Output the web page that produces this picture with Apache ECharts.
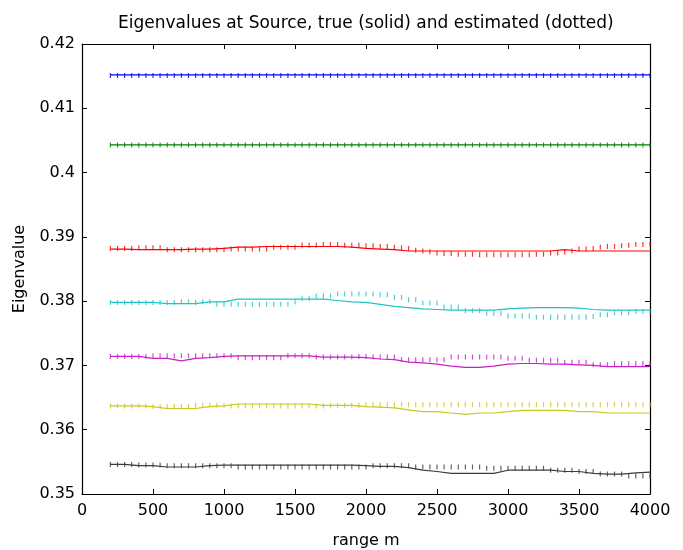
<!DOCTYPE html>
<html>
<head>
<meta charset="utf-8">
<title>Eigenvalues at Source</title>
<script src="https://cdn.jsdelivr.net/npm/echarts@6/dist/echarts.min.js"></script>
<style>
html,body{margin:0;padding:0;background:#fff;}
#main{width:683px;height:550px;}
</style>
</head>
<body>
<div id="main"></div>
<script>
// range (m) of the true curves and of the estimated points
var rangeSolid = [200,300,400,500,600,700,800,900,1000,1100,1200,1300,1400,1500,1600,1700,1800,1900,2000,2100,
	2200,2300,2400,2500,2600,2700,2800,2900,3000,3100,3200,3300,3400,3500,3600,3700,3800,3900,4000];
var rangeEst = [200,250,300,350,400,450,500,550,600,650,700,750,800,850,900,950,1000,1050,1100,1150,
	1200,1250,1300,1350,1400,1450,1500,1550,1600,1650,1700,1750,1800,1850,1900,1950,2000,2050,2100,2150,
	2200,2250,2300,2350,2400,2450,2500,2550,2600,2650,2700,2750,2800,2850,2900,2950,3000,3050,3100,3150,
	3200,3250,3300,3350,3400,3450,3500,3550,3600,3650,3700,3750,3800,3850,3900,3950,4000];

// eigenvalue 1 (blue)
var blueTrue = [0.4152,0.4152,0.4152,0.4152,0.4152,0.4152,0.4152,0.4152,0.4152,0.4152,
	0.4152,0.4152,0.4152,0.4152,0.4152,0.4152,0.4152,0.4152,0.4152,0.4152,
	0.4152,0.4152,0.4152,0.4152,0.4152,0.4152,0.4152,0.4152,0.4152,0.4152,
	0.4152,0.4152,0.4152,0.4152,0.4152,0.4152,0.4152,0.4152,0.4152];
var blueEst = [0.4151,0.4151,0.4151,0.4151,0.4151,0.4151,0.4151,0.4151,0.4151,0.4151,
	0.4151,0.4151,0.4151,0.4151,0.4151,0.4151,0.4151,0.4151,0.4151,0.4151,
	0.4151,0.4151,0.4151,0.4151,0.4151,0.4151,0.4151,0.4151,0.4151,0.4151,
	0.4151,0.4151,0.4151,0.4151,0.4151,0.4151,0.4151,0.4151,0.4151,0.4151,
	0.4151,0.4151,0.4151,0.4151,0.4151,0.4151,0.4151,0.4151,0.4151,0.4151,
	0.4151,0.4151,0.4151,0.4151,0.4151,0.4151,0.4151,0.4151,0.4151,0.4151,
	0.4151,0.4151,0.4151,0.4151,0.4151,0.4151,0.4151,0.4151,0.4151,0.4151,
	0.4151,0.4151,0.4151,0.4151,0.4151,0.4151,0.4151];

// eigenvalue 2 (green)
var greenTrue = [0.4043,0.4043,0.4043,0.4043,0.4043,0.4043,0.4043,0.4043,0.4043,0.4043,
	0.4043,0.4043,0.4043,0.4043,0.4043,0.4043,0.4043,0.4043,0.4043,0.4043,
	0.4043,0.4043,0.4043,0.4043,0.4043,0.4043,0.4043,0.4043,0.4043,0.4043,
	0.4043,0.4043,0.4043,0.4043,0.4043,0.4043,0.4043,0.4043,0.4043];
var greenEst = [0.4043,0.4043,0.4043,0.4043,0.4043,0.4043,0.4043,0.4043,0.4043,0.4043,
	0.4043,0.4043,0.4043,0.4043,0.4043,0.4043,0.4043,0.4043,0.4043,0.4043,
	0.4043,0.4043,0.4043,0.4043,0.4043,0.4043,0.4043,0.4043,0.4043,0.4043,
	0.4043,0.4043,0.4043,0.4043,0.4043,0.4043,0.4043,0.4043,0.4043,0.4043,
	0.4043,0.4043,0.4043,0.4043,0.4043,0.4043,0.4043,0.4043,0.4043,0.4043,
	0.4043,0.4043,0.4043,0.4043,0.4043,0.4043,0.4043,0.4043,0.4043,0.4043,
	0.4043,0.4043,0.4043,0.4043,0.4043,0.4043,0.4043,0.4043,0.4043,0.4043,
	0.4043,0.4043,0.4043,0.4043,0.4043,0.4043,0.4043];

// eigenvalue 3 (red)
var redTrue = [0.3881,0.3881,0.3880,0.3880,0.3880,0.3880,0.3881,0.3881,0.3882,0.3884,
	0.3884,0.3885,0.3885,0.3885,0.3885,0.3885,0.3885,0.3884,0.3882,0.3881,
	0.3880,0.3878,0.3878,0.3878,0.3878,0.3878,0.3878,0.3878,0.3878,0.3878,
	0.3878,0.3878,0.3880,0.3878,0.3878,0.3878,0.3878,0.3878,0.3878];
var redEst = [0.3882,0.3882,0.3882,0.3882,0.3883,0.3883,0.3883,0.3883,0.3880,0.3880,
	0.3880,0.3880,0.3880,0.3880,0.3880,0.3880,0.3880,0.3881,0.3881,0.3881,
	0.3881,0.3881,0.3881,0.3884,0.3884,0.3884,0.3884,0.3887,0.3887,0.3887,
	0.3888,0.3888,0.3888,0.3887,0.3887,0.3887,0.3886,0.3886,0.3885,0.3885,
	0.3884,0.3883,0.3882,0.3879,0.3878,0.3877,0.3875,0.3874,0.3874,0.3873,
	0.3873,0.3873,0.3872,0.3872,0.3872,0.3872,0.3872,0.3872,0.3872,0.3872,
	0.3873,0.3873,0.3875,0.3875,0.3876,0.3878,0.3881,0.3881,0.3882,0.3884,
	0.3885,0.3885,0.3886,0.3887,0.3888,0.3888,0.3888];

// eigenvalue 4 (cyan)
var cyanTrue = [0.3798,0.3798,0.3798,0.3798,0.3796,0.3796,0.3796,0.3799,0.3799,0.3803,
	0.3803,0.3803,0.3803,0.3803,0.3803,0.3803,0.3801,0.3799,0.3798,0.3795,
	0.3792,0.3790,0.3788,0.3787,0.3786,0.3786,0.3786,0.3786,0.3788,0.3789,
	0.3790,0.3790,0.3790,0.3789,0.3787,0.3786,0.3786,0.3786,0.3786];
var cyanEst = [0.3798,0.3798,0.3798,0.3798,0.3798,0.3798,0.3798,0.3798,0.3798,0.3798,
	0.3799,0.3799,0.3798,0.3799,0.3799,0.3795,0.3795,0.3795,0.3795,0.3795,
	0.3795,0.3795,0.3795,0.3795,0.3795,0.3795,0.3799,0.3804,0.3804,0.3808,
	0.3808,0.3808,0.3811,0.3811,0.3811,0.3811,0.3811,0.3811,0.3810,0.3810,
	0.3806,0.3806,0.3802,0.3802,0.3797,0.3797,0.3797,0.3791,0.3791,0.3791,
	0.3785,0.3785,0.3785,0.3781,0.3781,0.3781,0.3777,0.3777,0.3777,0.3777,
	0.3775,0.3775,0.3775,0.3775,0.3775,0.3775,0.3775,0.3775,0.3776,0.3779,
	0.3779,0.3782,0.3782,0.3782,0.3784,0.3784,0.3784];

// eigenvalue 5 (magenta)
var magentaTrue = [0.3714,0.3714,0.3714,0.3711,0.3711,0.3707,0.3711,0.3712,0.3714,0.3715,
	0.3715,0.3715,0.3715,0.3715,0.3715,0.3713,0.3713,0.3713,0.3712,0.3710,
	0.3709,0.3705,0.3704,0.3702,0.3699,0.3697,0.3697,0.3699,0.3702,0.3703,
	0.3703,0.3702,0.3702,0.3701,0.3700,0.3698,0.3698,0.3698,0.3698];
var magentaEst = [0.3714,0.3714,0.3714,0.3714,0.3714,0.3714,0.3715,0.3715,0.3715,0.3715,
	0.3715,0.3715,0.3715,0.3715,0.3715,0.3715,0.3715,0.3715,0.3712,0.3712,
	0.3712,0.3712,0.3712,0.3712,0.3712,0.3715,0.3715,0.3715,0.3715,0.3713,
	0.3713,0.3713,0.3713,0.3713,0.3713,0.3714,0.3714,0.3713,0.3713,0.3713,
	0.3713,0.3709,0.3709,0.3709,0.3709,0.3709,0.3709,0.3709,0.3713,0.3713,
	0.3713,0.3713,0.3713,0.3713,0.3713,0.3713,0.3711,0.3711,0.3711,0.3708,
	0.3708,0.3708,0.3708,0.3708,0.3705,0.3705,0.3705,0.3705,0.3701,0.3701,
	0.3701,0.3703,0.3703,0.3703,0.3703,0.3703,0.3703];

// eigenvalue 6 (yellow)
var yellowTrue = [0.3637,0.3637,0.3637,0.3636,0.3633,0.3633,0.3633,0.3636,0.3637,0.3640,
	0.3640,0.3640,0.3640,0.3640,0.3640,0.3638,0.3638,0.3638,0.3636,0.3635,
	0.3634,0.3631,0.3628,0.3628,0.3626,0.3624,0.3626,0.3626,0.3628,0.3630,
	0.3630,0.3630,0.3630,0.3628,0.3628,0.3626,0.3626,0.3626,0.3626];
var yellowEst = [0.3637,0.3637,0.3637,0.3637,0.3637,0.3637,0.3636,0.3636,0.3636,0.3636,
	0.3636,0.3636,0.3638,0.3638,0.3638,0.3638,0.3638,0.3637,0.3637,0.3637,
	0.3637,0.3637,0.3637,0.3637,0.3637,0.3637,0.3637,0.3637,0.3637,0.3637,
	0.3637,0.3638,0.3638,0.3638,0.3638,0.3638,0.3639,0.3639,0.3639,0.3639,
	0.3639,0.3639,0.3639,0.3639,0.3639,0.3639,0.3639,0.3639,0.3639,0.3639,
	0.3639,0.3639,0.3639,0.3639,0.3639,0.3639,0.3639,0.3639,0.3639,0.3639,
	0.3639,0.3639,0.3639,0.3639,0.3639,0.3639,0.3639,0.3639,0.3639,0.3639,
	0.3639,0.3639,0.3639,0.3639,0.3639,0.3639,0.3639];

// eigenvalue 7 (black)
var blackTrue = [0.3546,0.3546,0.3544,0.3544,0.3542,0.3542,0.3542,0.3544,0.3545,0.3545,
	0.3545,0.3545,0.3545,0.3545,0.3545,0.3545,0.3545,0.3545,0.3544,0.3543,
	0.3543,0.3541,0.3537,0.3535,0.3532,0.3532,0.3532,0.3532,0.3537,0.3537,
	0.3537,0.3537,0.3535,0.3535,0.3532,0.3531,0.3531,0.3533,0.3534];
var blackEst = [0.3546,0.3546,0.3546,0.3546,0.3545,0.3545,0.3545,0.3545,0.3544,0.3544,
	0.3544,0.3544,0.3544,0.3544,0.3544,0.3544,0.3544,0.3544,0.3542,0.3542,
	0.3542,0.3542,0.3542,0.3542,0.3542,0.3542,0.3542,0.3542,0.3542,0.3542,
	0.3542,0.3542,0.3542,0.3542,0.3542,0.3542,0.3542,0.3544,0.3544,0.3544,
	0.3544,0.3544,0.3544,0.3542,0.3542,0.3542,0.3542,0.3542,0.3542,0.3542,
	0.3542,0.3542,0.3542,0.3540,0.3540,0.3540,0.3540,0.3540,0.3540,0.3540,
	0.3540,0.3540,0.3537,0.3537,0.3537,0.3537,0.3535,0.3535,0.3535,0.3531,
	0.3531,0.3531,0.3531,0.3528,0.3528,0.3528,0.3528];

var xTicks = [0,500,1000,1500,2000,2500,3000,3500,4000];
var yTicks = [0.35,0.36,0.37,0.38,0.39,0.4,0.41,0.42];

var fontName = 'DejaVu Sans';

//组合成 [x,y]
function pairs(xs, ys){
	var out = [];
	for (var i = 0; i < xs.length; i++) {
		out.push([xs[i], ys[i]]);
	}
	return out;
}

var seriesList = [];
//真值实线 + 估计值点线
function addCurve(name, color, trueVals, estVals){
	seriesList.push({
		name: name + ' true',
		type: 'line',
		data: pairs(rangeSolid, trueVals),
		symbol: 'none',
		lineStyle: {color: color, width: 1.2},
		itemStyle: {color: color},
		silent: true
	});
	seriesList.push({
		name: name + ' estimated',
		type: 'scatter',
		data: pairs(rangeEst, estVals),
		symbol: 'rect',
		symbolSize: [1.2, 5],
		itemStyle: {color: color},
		silent: true
	});
}

addCurve('1', '#0000ff', blueTrue, blueEst);
addCurve('2', '#008000', greenTrue, greenEst);
addCurve('3', '#ff0000', redTrue, redEst);
addCurve('4', '#1fc4c4', cyanTrue, cyanEst);
addCurve('5', '#c81ec8', magentaTrue, magentaEst);
addCurve('6', '#c8c81e', yellowTrue, yellowEst);
addCurve('7', '#3c3c3c', blackTrue, blackEst);

function boxAxis(extra){
	var ax = {
		type: 'value',
		axisLine: {show: true, onZero: false, lineStyle: {color: '#000', width: 1.2}},
		axisTick: {show: true, inside: true, length: 5, lineStyle: {color: '#000'}},
		splitLine: {show: false},
		axisLabel: {show: false}
	};
	for (var k in extra) ax[k] = extra[k];
	return ax;
}

var myChart = echarts.init(document.getElementById('main'), null, {renderer: 'canvas'});
var option = {
	animation: false,
	backgroundColor: '#fff',
	title: {
		text: 'Eigenvalues at Source, true (solid) and estimated (dotted)',
		left: 113,
		top: 10,
		textStyle: {fontFamily: fontName, fontSize: 17, fontWeight: 'normal', color: '#000'}
	},
	grid: {left: 82, right: 33, top: 44, bottom: 56, containLabel: false, outerBoundsMode: 'none'},
	xAxis: [
		boxAxis({
			min: xTicks[0], max: xTicks[xTicks.length - 1], interval: 500,
			position: 'bottom',
			name: 'range m', nameLocation: 'middle', nameGap: 39, nameMoveOverlap: false,
			nameTextStyle: {fontFamily: fontName, fontSize: 16, color: '#000'},
			axisLabel: {
				show: true, margin: 9, fontFamily: fontName, fontSize: 16, color: '#000',
				formatter: function(v){ return String(v); }
			}
		}),
		boxAxis({min: xTicks[0], max: xTicks[xTicks.length - 1], interval: 500, position: 'top'})
	],
	yAxis: [
		boxAxis({
			min: yTicks[0], max: yTicks[yTicks.length - 1], interval: 0.01,
			position: 'left',
			name: 'Eigenvalue', nameLocation: 'middle', nameGap: 54, nameRotate: 90, nameMoveOverlap: false,
			nameTextStyle: {fontFamily: fontName, fontSize: 16, color: '#000'},
			axisLabel: {
				show: true, margin: 7, fontFamily: fontName, fontSize: 16, color: '#000',
				formatter: function(v){ return String(parseFloat(v.toFixed(2))); }
			}
		}),
		boxAxis({min: yTicks[0], max: yTicks[yTicks.length - 1], interval: 0.01, position: 'right'})
	],
	series: seriesList
};
myChart.setOption(option);
</script>
</body>
</html>
